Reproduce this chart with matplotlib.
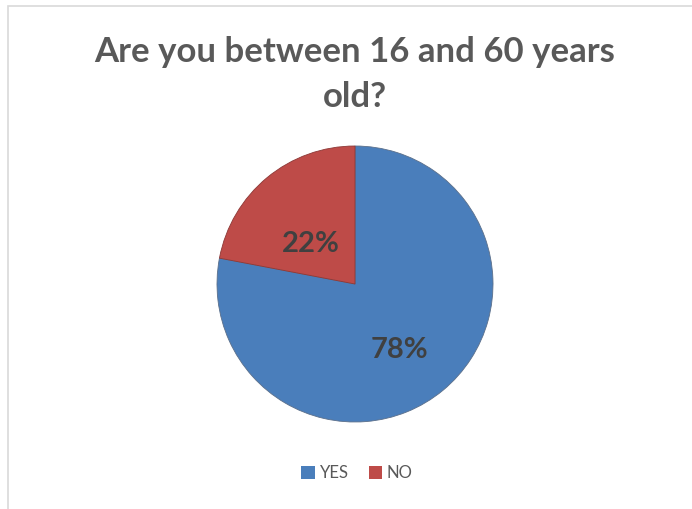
import matplotlib
matplotlib.use("Agg")
import matplotlib.pyplot as plt
from matplotlib.patches import Rectangle, Patch

TITLE = "Are you between 16 and 60 years\nold?"
LABELS = ["YES", "NO"]
VALUES = [78, 22]
COLORS = ["#4a7ebb", "#be4b48"]

W, H = 692, 509
fig = plt.figure(figsize=(W / 100, H / 100), dpi=100)
fig.patch.set_facecolor("white")

# light frame, only top and left edges visible in the original crop
fig.patches.append(Rectangle((8 / W, -0.1), 1.2, (H - 6) / H + 0.1, transform=fig.transFigure,
                             fill=False, edgecolor="#d9d9d9", linewidth=1.2))

fig.text(355 / W, 1 - 36 / H, TITLE, ha="center", va="top", fontsize=25, fontweight="bold",
         family="Lato", color="#595959", linespacing=1.5)

cx, cy, r = 355, 284, 138
ax = fig.add_axes([(cx - r) / W, (H - cy - r) / H, 2 * r / W, 2 * r / H])
wedges, texts, autotexts = ax.pie(
    VALUES, colors=COLORS, startangle=90, counterclock=False,
    autopct="%d%%", pctdistance=0.5,
    wedgeprops=dict(edgecolor="#5b6f8a", linewidth=0.6),
    textprops=dict(fontsize=21, fontweight="bold", family="Lato", color="#404040"),
)
for t in autotexts:
    t.set_va("top")
wedges[1].set_edgecolor("#8c3836")
ax.set_xlim(-1, 1)
ax.set_ylim(-1, 1)
ax.set_aspect("equal")
ax.axis("off")

handles = [Patch(facecolor=c, edgecolor="none") for c in COLORS]
fig.legend(handles, LABELS, loc="center", bbox_to_anchor=(357 / W, 1 - 473 / H), ncol=2,
           frameon=False, handlelength=0.8, handleheight=0.8, handletextpad=0.3, columnspacing=1.2,
           prop=dict(family="Lato", size=12), labelcolor="#595959")

fig.savefig("out.png", dpi=100)
